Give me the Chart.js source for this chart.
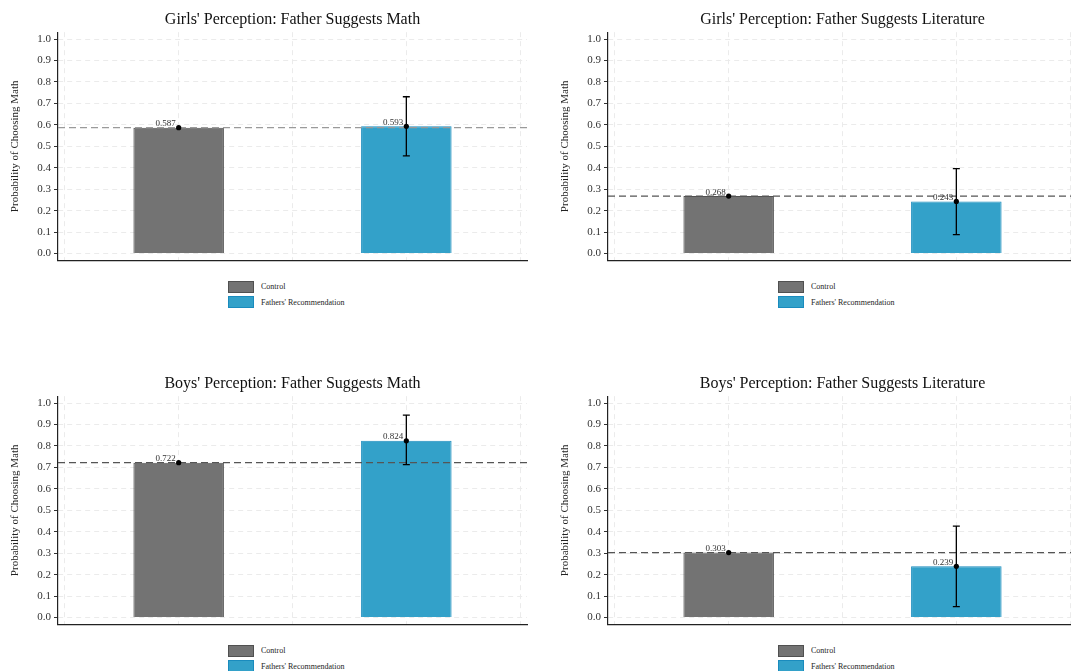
<!DOCTYPE html>
<html>
<head>
<meta charset="utf-8">
<script src="https://cdn.jsdelivr.net/npm/chart.js@4.4.1/dist/chart.umd.min.js"></script>
<style>
  html, body { margin: 0; padding: 0; background: #fff; width: 1071px; height: 671px; overflow: hidden; }
  .panel { position: absolute; width: 540px; height: 307px; }
  .panel canvas { position: absolute; left: 0; top: 0; }
  .legend { position: absolute; left: 228px; top: 279px; font-family: 'Liberation Serif', serif; font-size: 8px; color: #222; }
  .legend .row { display: flex; align-items: center; height: 15.5px; }
  .legend .box { width: 24px; height: 10px; margin-right: 7px; border: 1px solid; }
  .legend .txt { color: #222; opacity: 0.99; }
</style>
</head>
<body>
<div id="wrap"></div>
<script>
// chart data
const panelTitles = [
    "Girls' Perception: Father Suggests Math",
    "Girls' Perception: Father Suggests Literature",
    "Boys' Perception: Father Suggests Math",
    "Boys' Perception: Father Suggests Literature"
];
const groups = ['Control', "Fathers' Recommendation"];
const groupPos = [1, 2];
const controlValues = [0.587, 0.268, 0.722, 0.303];
const treatValues = [0.593, 0.243, 0.824, 0.239];
const ciLow = [0.455, 0.088, 0.713, 0.051];
const ciHigh = [0.731, 0.396, 0.944, 0.426];
const yTicks = [0, 0.1, 0.2, 0.3, 0.4, 0.5, 0.6, 0.7, 0.8, 0.9, 1.0];
const xGrid = [0.5, 1, 1.5, 2, 2.5];

const X_MIN = 0.47, X_MAX = 2.53;
const Y_MIN = -0.032, Y_MAX = 1.032;
const FILLS = ['#737373', '#33a1c9'];
const EDGES = ['#505050', '#1a8bbd'];
const REF_COLORS = ['#9a9a9a', '#555555', '#555555', '#555555'];
const SERIF = "'Liberation Serif', 'Times New Roman', serif";

const panelPos = [[0, 0], [550, 0], [0, 364], [550, 364]];

// error bars + value labels, drawn through the chart scales
const annotatePlugin = {
    id: 'annotate',
    afterDatasetsDraw(chart) {
        const idx = chart.options.plugins.annotate.panel;
        const xs = chart.scales.x, ys = chart.scales.y;
        const ctx = chart.ctx;
        ctx.save();
        // error bar on treatment
        const ex = xs.getPixelForValue(groupPos[1]);
        const lo = ys.getPixelForValue(ciLow[idx]);
        const hi = ys.getPixelForValue(ciHigh[idx]);
        ctx.strokeStyle = '#000';
        ctx.lineWidth = 1.3;
        ctx.beginPath();
        ctx.moveTo(ex, lo); ctx.lineTo(ex, hi);
        ctx.moveTo(ex - 3.5, lo); ctx.lineTo(ex + 3.5, lo);
        ctx.moveTo(ex - 3.5, hi); ctx.lineTo(ex + 3.5, hi);
        ctx.stroke();
        // points
        const vals = [controlValues[idx], treatValues[idx]];
        ctx.fillStyle = '#000';
        vals.forEach((v, i) => {
            ctx.beginPath();
            ctx.arc(xs.getPixelForValue(groupPos[i]), ys.getPixelForValue(v), 2.6, 0, Math.PI * 2);
            ctx.fill();
        });
        // labels
        ctx.font = '9px ' + SERIF;
        ctx.fillStyle = '#333';
        ctx.textAlign = 'right';
        ctx.textBaseline = 'alphabetic';
        vals.forEach((v, i) => {
            ctx.fillText(v.toFixed(3), xs.getPixelForValue(groupPos[i]) - 3, ys.getPixelForValue(v) - 1.5);
        });
        ctx.restore();
    }
};

function makePanel(idx) {
    const wrap = document.getElementById('wrap');
    const div = document.createElement('div');
    div.className = 'panel';
    div.style.left = panelPos[idx][0] + 'px';
    div.style.top = panelPos[idx][1] + 'px';
    const canvas = document.createElement('canvas');
    canvas.width = 540;
    canvas.height = 270;
    div.appendChild(canvas);

    const legend = document.createElement('div');
    legend.className = 'legend';
    groups.forEach((g, i) => {
        const row = document.createElement('div');
        row.className = 'row';
        const box = document.createElement('span');
        box.className = 'box';
        box.style.background = FILLS[i];
        box.style.borderColor = EDGES[i];
        const txt = document.createElement('span');
        txt.className = 'txt';
        txt.textContent = g;
        row.appendChild(box);
        row.appendChild(txt);
        legend.appendChild(row);
    });
    div.appendChild(legend);
    wrap.appendChild(div);

    new Chart(canvas.getContext('2d'), {
        type: 'bar',
        data: {
            datasets: [
                {
                    type: 'line',
                    data: [{ x: X_MIN, y: controlValues[idx] }, { x: X_MAX, y: controlValues[idx] }],
                    borderColor: REF_COLORS[idx],
                    borderWidth: 1.2,
                    borderDash: [7, 4],
                    pointRadius: 0,
                    order: 0
                },
                {
                    type: 'bar',
                    data: [
                        { x: groupPos[0], y: controlValues[idx] },
                        { x: groupPos[1], y: treatValues[idx] }
                    ],
                    backgroundColor: FILLS,
                    borderColor: EDGES,
                    borderWidth: 1,
                    categoryPercentage: 1,
                    barPercentage: 0.795,
                    order: 1
                }
            ]
        },
        options: {
            responsive: false,
            animation: false,
            layout: { padding: { left: 0, right: 13, top: 0, bottom: 1 } },
            scales: {
                x: {
                    type: 'linear',
                    min: X_MIN,
                    max: X_MAX,
                    offset: false,
                    afterBuildTicks: s => { s.ticks = xGrid.map(v => ({ value: v })); },
                    afterFit: s => { s.height = 0; },
                    ticks: { display: false },
                    grid: { color: '#ebebeb', lineWidth: 1, drawTicks: false, offset: false },
                    border: { display: true, color: '#222', width: 1.2, dash: [5, 4] }
                },
                y: {
                    min: Y_MIN,
                    max: Y_MAX,
                    afterBuildTicks: s => { s.ticks = yTicks.map(v => ({ value: v })); },
                    afterFit: s => { s.width = 58; },
                    ticks: {
                        callback: v => Number(v).toFixed(1),
                        font: { family: SERIF, size: 11 },
                        color: '#333',
                        padding: 3
                    },
                    grid: {
                        color: '#ebebeb', lineWidth: 1, drawTicks: true, tickLength: 4,
                        tickColor: '#333', tickWidth: 1, tickBorderDash: []
                    },
                    border: { display: true, color: '#222', width: 1.2, dash: [5, 4] },
                    title: {
                        display: true,
                        text: 'Probability of Choosing Math',
                        font: { family: SERIF, size: 11 },
                        color: '#222',
                        padding: { top: 9, bottom: 0 }
                    }
                }
            },
            plugins: {
                legend: { display: false },
                tooltip: { enabled: false },
                title: {
                    display: true,
                    text: panelTitles[idx],
                    fullSize: false,
                    font: { family: SERIF, size: 16, weight: 'normal' },
                    color: '#111',
                    padding: { top: 10, bottom: 3 }
                },
                annotate: { panel: idx }
            }
        },
        plugins: [annotatePlugin]
    });
}

panelTitles.forEach((_, i) => makePanel(i));
</script>
</body>
</html>
